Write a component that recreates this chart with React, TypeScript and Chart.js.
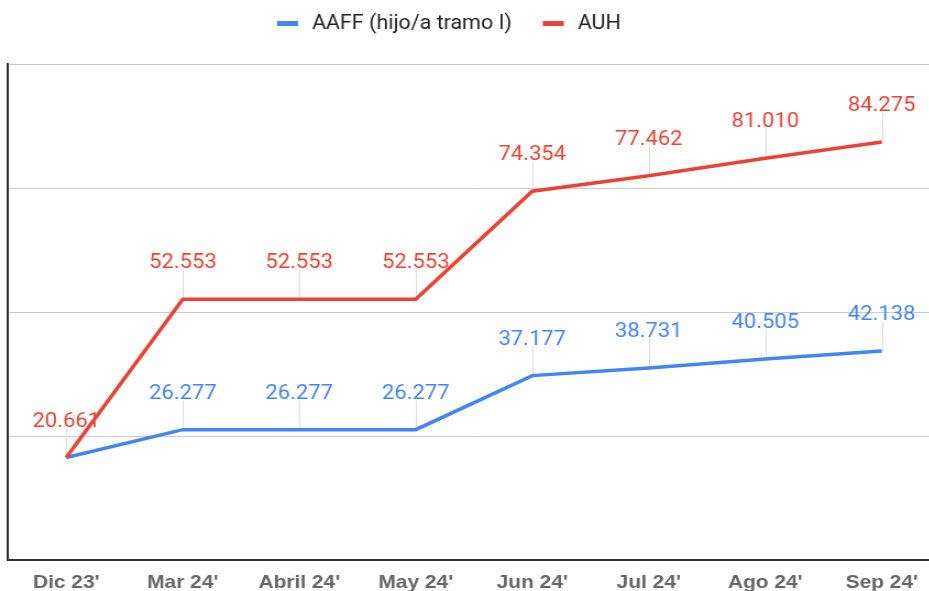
import { useEffect, useRef } from "react";
import { Chart, registerables } from "chart.js";

Chart.register(...registerables);

const categories = ["Dic 23'", "Mar 24'", "Abril 24'", "May 24'", "Jun 24'", "Jul 24'", "Ago 24'", "Sep 24'"];
const aaffValues = [20661, 26277, 26277, 26277, 37177, 38731, 40505, 42138];
const auhValues = [20661, 52553, 52553, 52553, 74354, 77462, 81010, 84275];
const seriesNames = ["AAFF (hijo/a tramo I)", "AUH"];
const seriesColors = ["#4285F4", "#EA4335"];
const yTicks = [0, 25000, 50000, 75000, 100000];

const SX = 1.1; // horizontal stretch of the reference
const W = 860;
const H = 591;

function fmt(v: number): string {
  const th = Math.floor(v / 1000);
  const rest = String(v % 1000).padStart(3, "0");
  return th > 0 ? `${th}.${rest}` : String(v);
}

const LABEL_FONT = "20px Roboto";
const LABEL_GAP = 31;
const LABEL_H = 15;

function placements(chart: any) {
  const ctx = chart.ctx;
  ctx.save();
  ctx.font = LABEL_FONT;
  const placed: any[] = [];
  const order = [1, 0];
  for (const di of order) {
    const meta = chart.getDatasetMeta(di);
    const ds = chart.data.datasets[di];
    meta.data.forEach((pt: any, i: number) => {
      const text = fmt(ds.data[i] as number);
      const w = ctx.measureText(text).width;
      const r = { x1: pt.x - w / 2, x2: pt.x + w / 2, y1: pt.y - LABEL_GAP - LABEL_H, y2: pt.y - LABEL_GAP };
      const hit = placed.some((p) => !(r.x2 < p.r.x1 || r.x1 > p.r.x2 || r.y2 < p.r.y1 || r.y1 > p.r.y2));
      if (!hit) placed.push({ r, x: pt.x, y: pt.y, text, color: ds.borderColor });
    });
  }
  ctx.restore();
  return placed;
}

const annotPlugin = {
  id: "annot",
  beforeDatasetsDraw(chart: any) {
    const ctx = chart.ctx;
    const placed = placements(chart);
    ctx.save();
    ctx.strokeStyle = "#dddddd";
    ctx.lineWidth = 1;
    for (const p of placed) {
      const x = Math.round(p.x) + 0.5;
      ctx.beginPath();
      ctx.moveTo(x, p.y);
      ctx.lineTo(x, p.y - LABEL_GAP + 2);
      ctx.stroke();
    }
    ctx.restore();
  },
  afterDatasetsDraw(chart: any) {
    const ctx = chart.ctx;
    const placed = placements(chart);
    ctx.save();
    ctx.font = LABEL_FONT;
    ctx.textAlign = "center";
    ctx.textBaseline = "alphabetic";
    for (const p of placed) {
      ctx.fillStyle = p.color;
      ctx.fillText(p.text, p.x, p.y - LABEL_GAP);
    }
    ctx.restore();
  },
};

const legendPlugin = {
  id: "customLegend",
  afterDraw(chart: any) {
    const ctx = chart.ctx;
    ctx.save();
    ctx.font = "19.5px Roboto";
    ctx.textBaseline = "middle";
    ctx.textAlign = "left";
    let x = 277 / SX;
    const y = 23.5;
    const markW = 21 / SX;
    const gapText = 14 / SX;
    const gapItem = 31 / SX;
    seriesNames.forEach((name, i) => {
      ctx.fillStyle = seriesColors[i];
      ctx.fillRect(x, y - 2.5, markW, 5);
      x += markW + gapText;
      ctx.fillStyle = "#222222";
      ctx.fillText(name, x, y + 1);
      x += ctx.measureText(name).width + gapItem;
    });
    ctx.restore();
  },
};

export default function App() {
  const ref = useRef<HTMLCanvasElement | null>(null);

  useEffect(() => {
    if (!ref.current) return;
    const chart = new Chart(ref.current, {
      type: "line",
      data: {
        labels: categories,
        datasets: [
          {
            label: seriesNames[0],
            data: aaffValues,
            borderColor: seriesColors[0],
            backgroundColor: seriesColors[0],
            borderWidth: 3.5,
            pointRadius: 0,
            tension: 0,
            order: 1,
          },
          {
            label: seriesNames[1],
            data: auhValues,
            borderColor: seriesColors[1],
            backgroundColor: seriesColors[1],
            borderWidth: 3.5,
            pointRadius: 0,
            tension: 0,
            order: 0,
          },
        ],
      },
      options: {
        animation: false,
        responsive: false,
        devicePixelRatio: 1,
        events: [],
        layout: { padding: { left: 8 / SX, right: W - 940 / SX, top: 64, bottom: 0 } },
        plugins: { legend: { display: false }, tooltip: { enabled: false } },
        scales: {
          x: {
            offset: true,
            grid: { display: false, drawTicks: false },
            border: { display: true, color: "#333333", width: 2 },
            ticks: {
              color: "#666666",
              font: { family: "Liberation Sans", size: 19, weight: "bold" },
              padding: 11,
              maxRotation: 0,
              autoSkip: false,
            },
            afterFit: (s: any) => {
              s.height = 31;
            },
          },
          y: {
            min: yTicks[0],
            max: yTicks[yTicks.length - 1],
            ticks: { display: false, stepSize: yTicks[1] - yTicks[0] },
            grid: { color: "#cccccc", lineWidth: 1, drawTicks: false },
            border: { display: true, color: "#333333", width: 2 },
            afterFit: (s: any) => {
              s.width = 0;
            },
          },
        },
      },
      plugins: [annotPlugin, legendPlugin],
    });
    return () => chart.destroy();
  }, []);

  return (
    <div
      style={{
        position: "fixed",
        left: 0,
        top: 0,
        width: 929,
        height: 591,
        overflow: "hidden",
        background: "#ffffff",
      }}
    >
      <canvas
        ref={ref}
        width={W}
        height={H}
        style={{
          position: "absolute",
          left: 0,
          top: 0,
          width: W,
          height: H,
          transform: `scaleX(${SX})`,
          transformOrigin: "0 0",
        }}
      />
    </div>
  );
}
